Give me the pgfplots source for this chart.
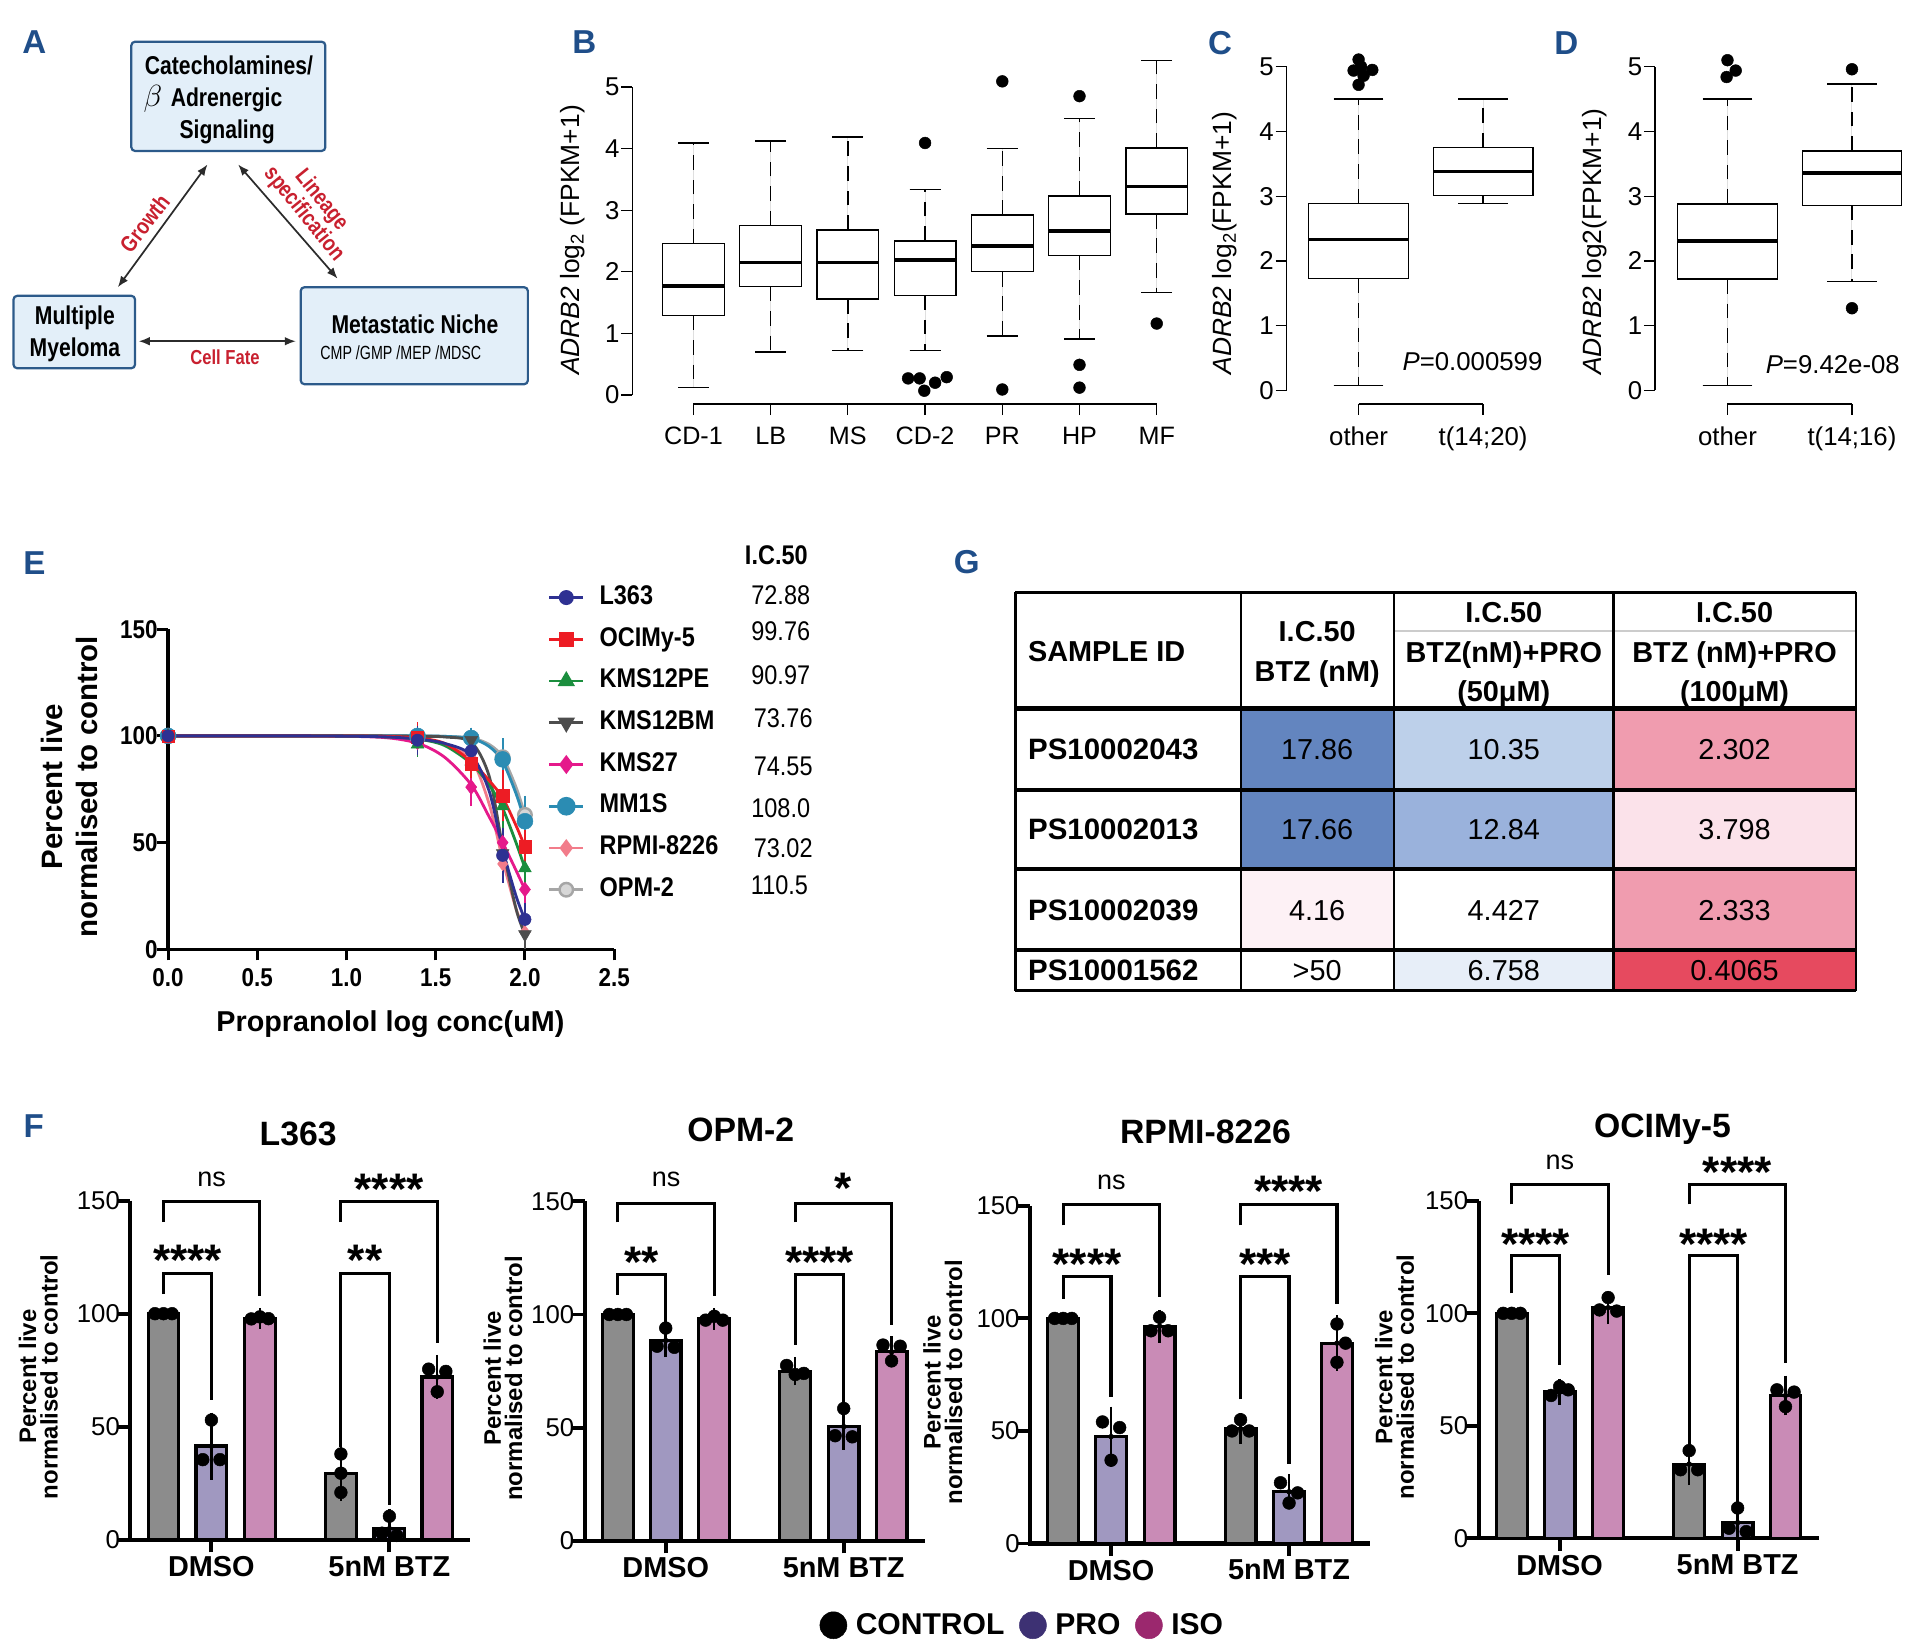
\documentclass[border=0pt]{standalone}
\usepackage{pgfplots}
\pgfplotsset{compat=1.18}
\usepgfplotslibrary{statistics}
\usetikzlibrary{arrows.meta}
\usepackage{fontspec}
\setmainfont{Liberation Sans}
\newfontfamily\nar[FakeStretch=0.87]{Liberation Sans}
\newfontfamily\anar[FakeStretch=0.82]{Liberation Sans}
\newfontfamily\cnar[FakeStretch=0.75]{Liberation Sans}
\newcommand{\fs}[1]{\fontsize{#1}{#1}\selectfont}

\definecolor{plab}{HTML}{1F4E89}
\definecolor{afill}{HTML}{E3EFF9}
\definecolor{aedge}{HTML}{2C5A8A}
\definecolor{ared}{HTML}{C8202F}
\definecolor{aarr}{HTML}{2B2B2B}
% panel E
\definecolor{cL}{HTML}{2E3192}
\definecolor{cO}{HTML}{ED1C24}
\definecolor{cPE}{HTML}{1B8E3E}
\definecolor{cBM}{HTML}{4D4D4D}
\definecolor{cK}{HTML}{E5198B}
\definecolor{cM}{HTML}{2B8CB3}
\definecolor{cR}{HTML}{F27C8A}
\definecolor{cP}{HTML}{A6A6A6}
% panel F
\definecolor{fgray}{HTML}{8C8C8C}
\definecolor{fpro}{HTML}{A098C0}
\definecolor{fiso}{HTML}{C98BB6}
\definecolor{lpro}{HTML}{3D3173}
\definecolor{liso}{HTML}{9B286E}
% panel G
\definecolor{g1}{HTML}{6385BF}
\definecolor{g2}{HTML}{BDD0EA}
\definecolor{g3}{HTML}{F09CAF}
\definecolor{g4}{HTML}{9AB2DC}
\definecolor{g5}{HTML}{FBE2EA}
\definecolor{g6}{HTML}{FDF1F5}
\definecolor{g7}{HTML}{E7EEF8}
\definecolor{g8}{HTML}{E64A5F}

\pgfplotsset{
  rstyle/.style={scale only axis, clip=false, enlargelimits=false,
    axis lines=left, axis line style={draw=none},
    tick align=outside, major tick length=9pt,
    tick style={black, line width=1pt},
    ytick={0,1,2,3,4,5},
    /pgf/number format/assume math mode=true,
    yticklabel style={font=\fs{21}, xshift=2pt},
    xticklabel style={font=\fs{21}, yshift=-6pt}},
  rbox/.style={black, line width=1.1pt, solid, fill=white, mark=none,
    boxplot/draw direction=y,
    boxplot/box extend=0.8, boxplot/whisker extend=0.4,
    boxplot/every median/.style={line width=2.8pt},
    boxplot/draw/lower whisker/.code={%
      \draw[black, line width=1.1pt, dash pattern=on 12pt off 8pt]
        (boxplot box cs:\pgfplotsboxplotvalue{lower quartile},0.5) --
        (boxplot box cs:\pgfplotsboxplotvalue{lower whisker},0.5);
      \draw[black, line width=1.1pt, solid]
        (boxplot whisker cs:\pgfplotsboxplotvalue{lower whisker},0) --
        (boxplot whisker cs:\pgfplotsboxplotvalue{lower whisker},1);},
    boxplot/draw/upper whisker/.code={%
      \draw[black, line width=1.1pt, dash pattern=on 12pt off 8pt]
        (boxplot box cs:\pgfplotsboxplotvalue{upper quartile},0.5) --
        (boxplot box cs:\pgfplotsboxplotvalue{upper whisker},0.5);
      \draw[black, line width=1.1pt, solid]
        (boxplot whisker cs:\pgfplotsboxplotvalue{upper whisker},0) --
        (boxplot whisker cs:\pgfplotsboxplotvalue{upper whisker},1);}},
  rout/.style={only marks, mark=*, mark size=4.8pt, black},
  rax/.style={black, line width=1.1pt, mark=none},
  fstyle/.style={scale only axis, clip=false, enlargelimits=false,
    xmin=0, xmax=277, ymin=0, ymax=150, xtick={66,211},
    axis lines=left, axis line style={draw=none},
    tick align=outside, major tick length=10pt,
    tick style={black, line width=3.2pt},
    ytick={0,50,100,150},
    /pgf/number format/assume math mode=true,
    yticklabel style={font=\fs{21}, xshift=5pt},
    xticklabel style={font=\bfseries\fs{23.5}},
    xticklabels={DMSO,5nM BTZ}},
  fax/.style={black, line width=3.4pt, line join=miter, mark=none},
  fbar/.style={ybar, bar width=25pt, bar shift=0pt, draw=black, line width=2.6pt},
  ferr/.style={only marks, mark=none, error bars/y dir=both, error bars/y explicit,
    error bars/error bar style={black, line width=2pt},
    error bars/error mark options={black, mark size=7pt, line width=2pt}},
  fdot/.style={only marks, mark=*, mark size=5.2pt, black},
  fbr/.style={black, line width=2.6pt, mark=none, line join=miter},
  eerr/.style={only marks, error bars/y dir=both, error bars/y explicit,
    error bars/error bar style={line width=1.6pt},
    error bars/error mark options={mark size=5pt, line width=1.6pt}},
  ecurve/.style={line width=2.3pt, smooth, mark=none},
}
\tikzset{
  plabel/.style={font=\bfseries\fs{27}, text=plab},
  abox/.style={draw=aedge, fill=afill, line width=1.8pt, rounded corners=3pt, inner sep=0pt},
  atext/.style={font=\anar\bfseries\fs{21}, anchor=base},
  ared/.style={font=\anar\bfseries\fs{18.5}, text=ared},
  aarrow/.style={aarr, line width=1.4pt, {Latex[length=9pt,width=7pt]}-{Latex[length=9pt,width=7pt]}},
  fns/.style={font=\fs{22}},
  fst/.style={font=\bfseries\fs{36}, yshift=-8pt},
  fyl/.style={rotate=90, align=center, font=\bfseries\fontsize{19.5}{17.5}\selectfont},
  ftitle/.style={font=\bfseries\fs{27.5}, anchor=base},
  gh/.style={font=\bfseries\fs{23.5}, anchor=base},
  gv/.style={font=\fs{23.5}, anchor=base},
}

\begin{document}
\begin{tikzpicture}[x=1pt,y=1pt]
\path (0,0) rectangle (1560,1342.5);

% ---------- panel letters
\node[plabel] at (28,1308.5) {A};
\node[plabel] at (476,1308.5) {B};
\node[plabel] at (994,1307.5) {C};
\node[plabel] at (1276,1307.5) {D};
\node[plabel] at (28,883.5) {E};
\node[plabel] at (787.5,884.5) {G};
\node[plabel] at (27.5,425.5) {F};

% ---------- A: diagram
\node[abox, minimum width=158pt, minimum height=89pt] at (186,1264) {};
\node[abox, minimum width=99pt, minimum height=59pt] at (60.5,1072) {};
\node[abox, minimum width=185pt, minimum height=79pt] at (337.5,1069) {};
\node[atext] at (186.5,1281.9) {Catecholamines/};
\node[atext] at (173.5,1255.9) {{\fs{24}$\beta$}\hspace{7pt}Adrenergic};
\node[atext] at (185,1229.9) {Signaling};
\node[atext] at (61,1077.9) {Multiple};
\node[atext] at (61,1051.9) {Myeloma};
\node[atext] at (338,1070.9) {Metastatic Niche};
\node[font=\cnar\fs{15.5}, anchor=base] at (326.5,1049.9) {CMP /GMP /MEP /MDSC};
\draw[aarrow] (96,1108.5) -- (169,1208.5);
\draw[aarrow] (194,1208.5) -- (275,1115.5);
\draw[aarrow] (113,1064.5) -- (241,1064.5);
\node[ared, rotate=52] at (117.8,1160.5) {Growth};
\node[ared, rotate=-51, align=center, font=\anar\bfseries\fontsize{18.5}{18.3}\selectfont] at (254.5,1173.5) {Lineage\\specification};
\node[ared, font=\anar\bfseries\fs{16.5}] at (183.3,1051.6) {Cell Fate};

% ---------- B: boxplots by subgroup
\begin{axis}[rstyle, at={(515.2pt,1013.3pt)}, anchor=south west,
  width=477.4pt, height=288.5pt,
  xmin=0.21, xmax=7.8, ymin=-0.147, ymax=5.6,
  xtick={1,2,3,4,5,6,7}, xticklabels={CD-1,LB,MS,CD-2,PR,HP,MF},
  xticklabel style={font=\fs{20.5}}]
\addplot[rax] coordinates {(0.21,0) (0.21,5)};
\addplot[rax] coordinates {(1,-0.147) (7,-0.147)};
\addplot[rbox, boxplot prepared={draw position=1, lower whisker=0.12, lower quartile=1.29, median=1.77, upper quartile=2.46, upper whisker=4.09}] coordinates {};
\addplot[rbox, boxplot prepared={draw position=2, lower whisker=0.70, lower quartile=1.76, median=2.15, upper quartile=2.75, upper whisker=4.12}] coordinates {};
\addplot[rbox, boxplot prepared={draw position=3, lower whisker=0.72, lower quartile=1.56, median=2.15, upper quartile=2.68, upper whisker=4.19}] coordinates {};
\addplot[rbox, boxplot prepared={draw position=4, lower whisker=0.72, lower quartile=1.62, median=2.19, upper quartile=2.50, upper whisker=3.34}] coordinates {};
\addplot[rbox, boxplot prepared={draw position=5, lower whisker=0.96, lower quartile=2.00, median=2.42, upper quartile=2.92, upper whisker=4.00}] coordinates {};
\addplot[rbox, boxplot prepared={draw position=6, lower whisker=0.91, lower quartile=2.26, median=2.66, upper quartile=3.23, upper whisker=4.49}] coordinates {};
\addplot[rbox, boxplot prepared={draw position=7, lower whisker=1.66, lower quartile=2.94, median=3.38, upper quartile=4.01, upper whisker=5.43}] coordinates {};
\addplot[rout] coordinates {(4,4.09) (3.78,0.27) (3.93,0.27) (4.13,0.20) (4.28,0.29) (3.99,0.07)
  (5,5.09) (5,0.09) (6,4.85) (6,0.49) (6,0.12) (7,1.16)};
\end{axis}
\node[rotate=90, font=\fs{21.5}] at (466.5,1146.9) {\textit{ADRB2} log\textsubscript{2} (FPKM+1)};

% ---------- C
\begin{axis}[rstyle, at={(1048.1pt,1013.5pt)}, anchor=south west,
  width=220.9pt, height=290.5pt,
  xmin=0.422, xmax=2.6, ymin=-0.2066, ymax=5.3,
  xtick={1,2}, xticklabels={other,t(14;20)}]
\addplot[rax] coordinates {(0.422,0) (0.422,5)};
\addplot[rax] coordinates {(1,-0.2066) (2,-0.2066)};
\addplot[rbox, boxplot prepared={draw position=1, lower whisker=0.08, lower quartile=1.73, median=2.33, upper quartile=2.89, upper whisker=4.50}] coordinates {};
\addplot[rbox, boxplot prepared={draw position=2, lower whisker=2.89, lower quartile=3.01, median=3.38, upper quartile=3.75, upper whisker=4.50}] coordinates {};
\addplot[rout] coordinates {(1,5.11) (0.96,4.94) (1.11,4.95) (1.04,4.86) (1,4.72) (1.02,5.0)};
\end{axis}
\node[rotate=90, font=\fs{21.5}] at (997.9,1144.4) {\textit{ADRB2} log\textsubscript{2}(FPKM+1)};
\node[font=\fs{21}] at (1199.5,1048) {\textit{P}=0.000599};

% ---------- D
\begin{axis}[rstyle, at={(1348.2pt,1013.5pt)}, anchor=south west,
  width=221.3pt, height=290.5pt,
  xmin=0.418, xmax=2.6, ymin=-0.2066, ymax=5.3,
  xtick={1,2}, xticklabels={other,t(14;16)}]
\addplot[rax] coordinates {(0.418,0) (0.418,5)};
\addplot[rax] coordinates {(1,-0.2066) (2,-0.2066)};
\addplot[rbox, boxplot prepared={draw position=1, lower whisker=0.08, lower quartile=1.72, median=2.31, upper quartile=2.88, upper whisker=4.50}] coordinates {};
\addplot[rbox, boxplot prepared={draw position=2, lower whisker=1.68, lower quartile=2.86, median=3.36, upper quartile=3.70, upper whisker=4.73}] coordinates {};
\addplot[rout] coordinates {(1,5.10) (1.066,4.94) (0.993,4.84) (2,4.96) (2,1.27)};
\end{axis}
\node[rotate=90, font=\fs{21.5}] at (1298.8,1145.7) {\textit{ADRB2} log2(FPKM+1)};
\node[font=\fs{21}] at (1493,1045.3) {\textit{P}=9.42e-08};

% ---------- E: dose response
\begin{axis}[at={(136.9pt,569.2pt)}, anchor=south west, scale only axis, clip=false, enlargelimits=false,
  width=363.4pt, height=260.7pt, xmin=0, xmax=2.5, ymin=0, ymax=150,
  axis lines=left, axis line style={draw=none},
  tick align=outside, major tick length=9pt, tick style={black, line width=2.4pt},
  xtick={0,0.5,1,1.5,2,2.5}, xticklabels={0.0,0.5,1.0,1.5,2.0,2.5},
  ytick={0,50,100,150},
  /pgf/number format/assume math mode=true,
  ticklabel style={font=\nar\bfseries\fs{21}},
  xticklabel style={yshift=-3pt}, yticklabel style={xshift=4pt},
  legend cell align=left,
  legend image code/.code={\draw[mark repeat=2, mark phase=2, #1] plot coordinates {(0pt,0pt) (14pt,0pt) (28pt,0pt)};},
  legend style={at={(0.8506,1.1362)}, anchor=north west, draw=none, fill=none, inner sep=0pt,
    font=\nar\bfseries\fs{22}, row sep=15pt,
    nodes={inner sep=0pt, text height=15pt, text depth=4pt},
    /tikz/every odd column/.append style={column sep=12pt}}]
\addlegendimage{cL, line width=2.2pt, mark=*, mark size=5pt}
\addlegendentry{L363}
\addlegendimage{cO, line width=2.2pt, mark=square*, mark size=5pt}
\addlegendentry{OCIMy-5}
\addlegendimage{cPE, line width=2.2pt, mark=triangle*, mark size=6pt}
\addlegendentry{KMS12PE}
\addlegendimage{cBM, line width=2.2pt, mark=triangle*, mark size=6pt, mark options={rotate=180}}
\addlegendentry{KMS12BM}
\addlegendimage{cK, line width=2.2pt, mark=diamond*, mark size=6pt}
\addlegendentry{KMS27}
\addlegendimage{cM, line width=2.2pt, mark=*, mark size=6.5pt}
\addlegendentry{MM1S}
\addlegendimage{cR, line width=2.2pt, mark=diamond*, mark size=5.5pt}
\addlegendentry{RPMI-8226}
\addlegendimage{cP, line width=2.2pt, mark=*, mark size=5.5pt, mark options={fill=cP!45, draw=cP, line width=2pt}}
\addlegendentry{OPM-2}
\addplot[black, line width=2.6pt, line join=miter, mark=none, forget plot] coordinates {(0,150) (0,0) (2.5,0)};
% OPM-2
\addplot[cP, ecurve, forget plot] coordinates {(0,100) (0.4,100) (0.8,100) (1.2,100) (1.4,100) (1.55,99.8) (1.7,99) (1.8,96) (1.875,90) (1.95,76) (2,63)};
\addplot[cP, eerr, mark=*, mark size=5.5pt, mark options={fill=cP!45, draw=cP, line width=2pt}, forget plot] coordinates {(0,100) +- (0,0) (1.398,99.5) +- (0,2) (1.699,99) +- (0,2) (1.875,90) +- (0,5) (2,63) +- (0,6)};
% RPMI-8226
\addplot[cR, ecurve, forget plot] coordinates {(0,100) (0.4,100) (0.8,100) (1.2,99.7) (1.4,98.5) (1.55,96) (1.7,89) (1.8,68) (1.875,42) (1.95,19) (2,8)};
\addplot[cR, eerr, mark=diamond*, mark size=5.5pt, forget plot] coordinates {(0,100) +- (0,0) (1.398,98) +- (0,3) (1.699,90) +- (0,4) (1.875,40) +- (0,5) (2,8) +- (0,4)};
% MM1S
\addplot[cM, ecurve, forget plot] coordinates {(0,100) (0.4,100) (0.8,100) (1.2,100) (1.4,100) (1.55,99.8) (1.7,98.8) (1.8,95) (1.875,88) (1.95,73) (2,60)};
\addplot[cM, eerr, mark=*, mark size=6.5pt, forget plot] coordinates {(0,100) +- (0,0) (1.398,100) +- (0,2) (1.699,99) +- (0,2) (1.875,89) +- (0,7) (2,60) +- (0,9)};
% KMS27
\addplot[cK, ecurve, forget plot] coordinates {(0,100) (0.4,100) (0.8,100) (1.2,99.3) (1.4,96.5) (1.55,90) (1.7,77) (1.8,62) (1.875,50) (1.95,37) (2,28)};
\addplot[cK, eerr, mark=diamond*, mark size=6pt, forget plot] coordinates {(0,100) +- (0,0) (1.398,97) +- (0,3) (1.699,76) +- (0,6) (1.875,50) +- (0,6) (2,28) +- (0,6)};
% KMS12BM
\addplot[cBM, ecurve, forget plot] coordinates {(0,100) (0.4,100) (0.8,100) (1.2,100) (1.4,99.8) (1.55,99.5) (1.7,97) (1.8,81) (1.875,48) (1.95,19) (2,7)};
\addplot[cBM, eerr, mark=triangle*, mark size=6pt, mark options={rotate=180}, forget plot] coordinates {(0,100) +- (0,0) (1.398,99) +- (0,2) (1.699,98) +- (0,2) (1.875,45) +- (0,11) (2,7) +- (0,4)};
% KMS12PE
\addplot[cPE, ecurve, forget plot] coordinates {(0,100) (0.4,100) (0.8,100) (1.2,99.6) (1.4,98.5) (1.55,95.5) (1.7,87) (1.8,77) (1.875,66) (1.95,50) (2,38)};
\addplot[cPE, eerr, mark=triangle*, mark size=6pt, forget plot] coordinates {(0,100) +- (0,0) (1.398,96) +- (0,3) (1.699,88) +- (0,4) (1.875,67) +- (0,8) (2,38) +- (0,5)};
% OCIMy-5
\addplot[cO, ecurve, forget plot] coordinates {(0,100) (0.4,100) (0.8,100) (1.2,99.8) (1.4,99) (1.55,96.5) (1.7,88) (1.8,79) (1.875,71) (1.95,58) (2,48)};
\addplot[cO, eerr, mark=square*, mark size=5pt, forget plot] coordinates {(0,100) +- (0,0) (1.398,99.5) +- (0,4) (1.699,87) +- (0,4) (1.875,72) +- (0,9) (2,48) +- (0,5)};
% L363
\addplot[cL, ecurve, forget plot] coordinates {(0,100) (0.4,100) (0.8,100) (1.2,99.6) (1.4,98.5) (1.55,96.5) (1.7,91) (1.8,74) (1.875,47) (1.95,25) (2,14)};
\addplot[cL, eerr, mark=*, mark size=5pt, forget plot] coordinates {(0,100) +- (0,0) (1.398,98) +- (0,4) (1.699,93) +- (0,4) (1.875,44) +- (0,10) (2,14) +- (0,5)};
\end{axis}
\node[rotate=90, align=center, font=\bfseries\fontsize{24}{28.7}\selectfont] at (56.35,701.7) {Percent live\\normalised to control};
\node[font=\bfseries\fs{23.4}, anchor=base] at (318,502) {Propranolol log conc(uM)};
\node[font=\nar\bfseries\fs{22}] at (632.4,890.5) {I.C.50};
\node[font=\nar\fs{22}] at (636,857.9) {72.88};
\node[font=\nar\fs{22}] at (636,828) {99.76};
\node[font=\nar\fs{22}] at (636,792.7) {90.97};
\node[font=\nar\fs{22}] at (638,757.4) {73.76};
\node[font=\nar\fs{22}] at (638,718) {74.55};
\node[font=\nar\fs{22}] at (636,684.1) {108.0};
\node[font=\nar\fs{22}] at (638,651.5) {73.02};
\node[font=\nar\fs{22}] at (635,621.7) {110.5};

% ---------- G: table
\fill[g1] (1011,765.3) rectangle (1135.5,699.2);
\fill[g2] (1135.5,765.3) rectangle (1314.5,699.2);
\fill[g3] (1314.5,765.3) rectangle (1512,699.2);
\fill[g1] (1011,699.2) rectangle (1135.5,634.5);
\fill[g4] (1135.5,699.2) rectangle (1314.5,634.5);
\fill[g5] (1314.5,699.2) rectangle (1512,634.5);
\fill[g6] (1011,634.5) rectangle (1135.5,568.5);
\fill[g3] (1314.5,634.5) rectangle (1512,568.5);
\fill[g7] (1135.5,568.5) rectangle (1314.5,535.5);
\fill[g8] (1314.5,568.5) rectangle (1512,535.5);
\draw[line width=2.2pt, black!20] (1135.5,828.5) -- (1512,828.5);
\draw[line width=2.5pt] (827,859.9) -- (1512,859.9);
\draw[line width=4pt] (827,765.3) -- (1512,765.3);
\draw[line width=3.5pt] (827,699.2) -- (1512,699.2);
\draw[line width=3.5pt] (827,634.5) -- (1512,634.5);
\draw[line width=3.5pt] (827,568.5) -- (1512,568.5);
\draw[line width=3pt] (827,535.5) -- (1512,535.5);
\foreach \xx in {827,1011,1135.5,1314.5,1512} {\draw[line width=2.2pt] (\xx,859.9) -- (\xx,535.5);}
\node[gh, anchor=base west] at (834,804) {SAMPLE ID};
\node[gh] at (1073,819.5) {I.C.50};
\node[gh] at (1073,787.5) {BTZ (nM)};
\node[gh] at (1225,835) {I.C.50};
\node[gh] at (1225,803) {BTZ(nM)+PRO};
\node[gh] at (1225,771) {(50μM)};
\node[gh] at (1413,835) {I.C.50};
\node[gh] at (1413,803) {BTZ (nM)+PRO};
\node[gh] at (1413,771) {(100μM)};
\node[gh, anchor=base west, font=\bfseries\fs{24}] at (834,723.7) {PS10002043};
\node[gh, anchor=base west, font=\bfseries\fs{24}] at (834,658.3) {PS10002013};
\node[gh, anchor=base west, font=\bfseries\fs{24}] at (834,593) {PS10002039};
\node[gh, anchor=base west, font=\bfseries\fs{24}] at (834,543.5) {PS10001562};
\node[gv] at (1073,723.7) {17.86};
\node[gv] at (1225,723.7) {10.35};
\node[gv] at (1413,723.7) {2.302};
\node[gv] at (1073,658.3) {17.66};
\node[gv] at (1225,658.3) {12.84};
\node[gv] at (1413,658.3) {3.798};
\node[gv] at (1073,593) {4.16};
\node[gv] at (1225,593) {4.427};
\node[gv] at (1413,593) {2.333};
\node[gv] at (1073,543.5) {>50};
\node[gv] at (1225,543.5) {6.758};
\node[gv] at (1413,543.5) {0.4065};

% ---------- F: L363
\begin{axis}[fstyle, at={(106.2pt,88pt)}, anchor=south west, width=277pt, height=276.5pt]
\addplot[fax] coordinates {(0,150) (0,0) (277,0)};
\addplot[fbar, fill=fgray] coordinates {(27,100) (171.5,29.5)};
\addplot[fbar, fill=fpro] coordinates {(66,41.5) (211,5)};
\addplot[fbar, fill=fiso] coordinates {(105.5,98) (250,72)};
\addplot[ferr] coordinates {(171.5,29.5) +- (0,8.5) (66,41.5) +- (0,11) (211,5) +- (0,5) (105.5,98) +- (0,0.8) (250,72) +- (0,6)};
\addplot[fdot] coordinates {(20,100) (27,100) (34,100) (66,53) (59,35.5) (73,35.5) (98.5,97.7) (105.5,98.6) (112.5,97.8)
  (171.5,38) (171.5,29.5) (171.5,21) (211,10.5) (205,3) (217,2) (243,75.5) (257,74.5) (250,65.5)};
\addplot[fbr] coordinates {(27,140.5) (27,149.7) (105.5,149.7) (105.5,107.8)};
\addplot[fbr] coordinates {(27,108.6) (27,117.7) (66,117.7) (66,61.8)};
\addplot[fbr] coordinates {(171.5,140.5) (171.5,149.7) (250,149.7) (250,87)};
\addplot[fbr] coordinates {(171.5,41.3) (171.5,117.7) (211,117.7) (211,15.3)};
\node[fns] at (axis cs:66.25,159.4) {ns};
\node[fst] at (axis cs:46.5,128) {****};
\node[fst] at (axis cs:210.75,159.4) {****};
\node[fst] at (axis cs:191.25,128) {**};
\end{axis}
\node[fyl] at (31.15,221) {Percent live\\normalised to control};
\node[ftitle] at (242.9,409.3) {L363};

% ---------- F: OPM-2
\begin{axis}[fstyle, at={(476.3pt,87.1pt)}, anchor=south west, width=277pt, height=276.9pt,
  legend columns=3,
  legend style={at={(1.286,-0.2477)}, anchor=center, draw=none, fill=none, inner sep=0pt,
    font=\bfseries\fs{24.5}, nodes={inner sep=1pt},
    /tikz/every odd column/.append style={column sep=6pt},
    /tikz/every even column/.append style={column sep=11pt}}]
\addlegendimage{legend image code/.code={\fill[black] (0pt,0pt) circle (11pt);}}
\addlegendentry{CONTROL}
\addlegendimage{legend image code/.code={\fill[lpro] (0pt,0pt) circle (11pt);}}
\addlegendentry{PRO}
\addlegendimage{legend image code/.code={\fill[liso] (0pt,0pt) circle (11pt);}}
\addlegendentry{ISO}
\addplot[fax, forget plot] coordinates {(0,150) (0,0) (277,0)};
\addplot[fbar, fill=fgray, forget plot] coordinates {(27,100) (171.5,75)};
\addplot[fbar, fill=fpro, forget plot] coordinates {(66,88.5) (211,50.5)};
\addplot[fbar, fill=fiso, forget plot] coordinates {(105.5,98) (250,83.5)};
\addplot[ferr, forget plot] coordinates {(171.5,75) +- (0,2.5) (66,88.5) +- (0,3.5) (211,50.5) +- (0,6.5) (105.5,98) +- (0,1) (250,83.5) +- (0,3)};
\addplot[fdot, forget plot] coordinates {(20,100) (27,100) (34,100) (66,94) (59,86) (73,85.5) (98.5,97.5) (105.5,99.2) (112.5,97.5)
  (164.5,77.5) (171.5,73.5) (178.5,74) (211,58.5) (204,46.5) (218,46) (243,86.5) (257,86) (250,79.5)};
\addplot[fbr, forget plot] coordinates {(27,140.6) (27,149) (105.5,149) (105.5,108.1)};
\addplot[fbr, forget plot] coordinates {(27,108.6) (27,117.6) (66,117.6) (66,93.3)};
\addplot[fbr, forget plot] coordinates {(171.5,140.6) (171.5,149) (250,149) (250,95.2)};
\addplot[fbr, forget plot] coordinates {(171.5,86.6) (171.5,117.6) (211,117.6) (211,60.6)};
\node[fns] at (axis cs:66.25,159.8) {ns};
\node[fst] at (axis cs:46.5,127.5) {**};
\node[fst] at (axis cs:210.75,159.8) {*};
\node[fst] at (axis cs:191.25,127.5) {****};
\end{axis}
\node[fyl] at (409.7,219.6) {Percent live\\normalised to control};
\node[ftitle] at (603.4,412.2) {OPM-2};

% ---------- F: RPMI-8226
\begin{axis}[fstyle, at={(839.1pt,85.1pt)}, anchor=south west, width=277pt, height=275.1pt]
\addplot[fax] coordinates {(0,150) (0,0) (277,0)};
\addplot[fbar, fill=fgray] coordinates {(27,100) (171.5,51)};
\addplot[fbar, fill=fpro] coordinates {(66,47.5) (211,23)};
\addplot[fbar, fill=fiso] coordinates {(105.5,96.5) (250,89)};
\addplot[ferr] coordinates {(171.5,51) +- (0,3) (66,47.5) +- (0,9.5) (211,23) +- (0,4) (105.5,96.5) +- (0,3.5) (250,89) +- (0,8.5)};
\addplot[fdot] coordinates {(20,100) (27,100) (34,100) (59,54) (73,51.5) (66,37) (105.5,100.5) (98.5,94.5) (112.5,94.5)
  (171.5,55) (164.5,50) (178.5,50) (204,27) (218,22.5) (211,18) (250,97.5) (257,89) (250,80.5)};
\addplot[fbr] coordinates {(27,141.3) (27,150.5) (105.5,150.5) (105.5,109.6)};
\addplot[fbr] coordinates {(27,108.8) (27,118.6) (66,118.6) (66,65.3)};
\addplot[fbr] coordinates {(171.5,141.3) (171.5,150.5) (250,150.5) (250,106.4)};
\addplot[fbr] coordinates {(171.5,64) (171.5,118.6) (211,118.6) (211,35.5)};
\node[fns] at (axis cs:66.25,160.6) {ns};
\node[fst] at (axis cs:46.5,128.6) {****};
\node[fst] at (axis cs:210.75,160.6) {****};
\node[fst] at (axis cs:191.25,128.6) {***};
\end{axis}
\node[fyl] at (768.05,216.5) {Percent live\\normalised to control};
\node[ftitle] at (982,411.3) {RPMI-8226};

% ---------- F: OCIMy-5
\begin{axis}[fstyle, at={(1204.5pt,89.3pt)}, anchor=south west, width=277pt, height=275pt]
\addplot[fax] coordinates {(0,150) (0,0) (277,0)};
\addplot[fbar, fill=fgray] coordinates {(27,100) (171.5,33)};
\addplot[fbar, fill=fpro] coordinates {(66,65) (211,7)};
\addplot[fbar, fill=fiso] coordinates {(105.5,102.5) (250,63.5)};
\addplot[ferr] coordinates {(171.5,33) +- (0,5.5) (66,65) +- (0,2) (211,7) +- (0,5.5) (105.5,102.5) +- (0,3.5) (250,63.5) +- (0,5)};
\addplot[fdot] coordinates {(20,100) (27,100) (34,100) (66,67.5) (73,66) (59,63.5) (105.5,107) (98.5,101.5) (112.5,101)
  (171.5,39) (164.5,30.5) (178.5,30.5) (211,13.5) (204,4.5) (218,3) (243,66) (257,65) (250,58.5)};
\addplot[fbr] coordinates {(27,148.4) (27,157.4) (105.5,157.4) (105.5,116.9)};
\addplot[fbr] coordinates {(27,108.9) (27,125.8) (66,125.8) (66,76.9)};
\addplot[fbr] coordinates {(171.5,148.4) (171.5,157.4) (250,157.4) (250,78)};
\addplot[fbr] coordinates {(171.5,41.4) (171.5,125.8) (211,125.8) (211,15.3)};
\node[fns] at (axis cs:66.25,167.2) {ns};
\node[fst] at (axis cs:46.5,135) {****};
\node[fst] at (axis cs:210.75,167.2) {****};
\node[fst] at (axis cs:191.25,135) {****};
\end{axis}
\node[fyl] at (1136,220.8) {Percent live\\normalised to control};
\node[ftitle] at (1354.3,415.7) {OCIMy-5};

\pgfresetboundingbox
\path[use as bounding box] (0,0) rectangle (1560,1342.5);
\end{tikzpicture}
\end{document}
